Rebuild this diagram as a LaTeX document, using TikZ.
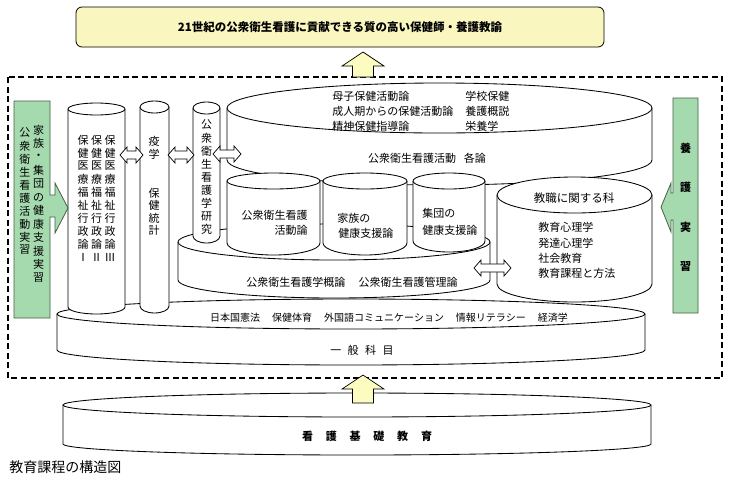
\documentclass[tikz,border=0pt]{standalone}
\usepackage{fontspec}
\setmainfont{Noto Sans CJK JP}
\definecolor{boxyellow}{RGB}{250,246,192}
\definecolor{arrowyellow}{RGB}{252,252,192}
\definecolor{mint}{RGB}{165,218,175}
\definecolor{mintedge}{RGB}{70,95,70}
\newcommand{\cylshape}[6]{% x1,x2,ytop,rytop,ybot,rybot
  \path[fill=white,draw=black] (#1,#3) -- (#1,#5)
    .. controls (#1,{#5+0.5523*#6}) and ({(#1+#2)/2-0.5523*(#2-#1)/2},{#5+#6}) .. ({(#1+#2)/2},{#5+#6})
    .. controls ({(#1+#2)/2+0.5523*(#2-#1)/2},{#5+#6}) and (#2,{#5+0.5523*#6}) .. (#2,#5) -- (#2,#3);
  \draw[fill=white] ({(#1+#2)/2},#3) ellipse [x radius={(#2-#1)/2}, y radius=#4];
}
\newcommand{\dblarr}[3]{% x1,x2,y
  \draw[fill=white,line width=0.7pt] (#1,#3) -- ({#1+7},{#3-8}) -- ({#1+7},{#3-4}) -- ({#2-7},{#3-4}) -- ({#2-7},{#3-8}) -- (#2,#3)
    -- ({#2-7},{#3+8}) -- ({#2-7},{#3+4}) -- ({#1+7},{#3+4}) -- ({#1+7},{#3+8}) -- cycle;
}
\begin{document}
\begin{tikzpicture}[x=1pt,y=-1pt,line width=0.85pt,
  every node/.style={inner sep=0pt,font=\fontsize{11}{13}\selectfont},
  vchar/.style={font=\fontsize{11}{13}\selectfont},
  boldtxt/.style={font=\bfseries\fontsize{11}{13}\selectfont}]
\useasboundingbox (0,0) rectangle (730,480);
\fill[white] (0,0) rectangle (730,480);

% goal box
\node[draw,rounded corners=6pt,fill=boxyellow,minimum width=528,minimum height=40,line width=0.8pt,
  font=\bfseries\fontsize{11.5}{13}\selectfont] (goal) at (340,27) {21世紀の公衆衛生看護に貢献できる質の高い保健師・養護教諭};

% dashed frame
\draw[line width=1.2pt,dash pattern=on 6pt off 3.5pt] (8,77) rectangle (722,378);
\draw[fill=arrowyellow,line width=0.7pt] (363,52) -- (384,66) -- (373.5,66) -- (373.5,77) -- (352.5,77) -- (352.5,66) -- (342,66) -- cycle;

% foundation disk
\cylshape{63}{651}{405}{12}{444}{11}
\node[boldtxt] (kiso) at (367,436) {看\hspace{12.8pt}護\hspace{12.8pt}基\hspace{12.8pt}礎\hspace{12.8pt}教\hspace{12.8pt}育};
\draw[fill=arrowyellow,line width=0.7pt] (363,375) -- (384,389) -- (373.5,389) -- (373.5,403) -- (352.5,403) -- (352.5,389) -- (342,389) -- cycle;

% general subjects disk
\cylshape{57}{645}{314}{15}{350}{15}
\node[font=\fontsize{10}{12}\selectfont] (gen) at (389,318) {日本国憲法\hspace{1.2em}保健体育\hspace{1.2em}外国語コミュニケーション\hspace{1.2em}情報リテラシー\hspace{1.2em}経済学};
\node (ippan) at (362,350) {一\hspace{6.5pt}般\hspace{6.5pt}科\hspace{6.5pt}目};

% middle disk
\cylshape{178}{490}{242}{18}{280}{18}
\node (gairon) at (352,282) {公衆衛生看護学概論\hspace{1.2em}公衆衛生看護管理論};

% big cylinder
\cylshape{227}{652}{108}{25}{160}{25}
\node[anchor=west] (m1) at (332,96) {母子保健活動論};
\node[anchor=west] (m2) at (332,111) {成人期からの保健活動論};
\node[anchor=west] (m3) at (332,126) {精神保健指導論};
\node[anchor=west] (s1) at (465,96) {学校保健};
\node[anchor=west] (s2) at (465,111) {養護概説};
\node[anchor=west] (s3) at (465,126) {栄養学};
\node (kakuron) at (427,158) {公衆衛生看護活動\hspace{0.7em}各論};

% teaching cylinder
\cylshape{497}{652}{195}{18}{284}{18}
\node[font=\fontsize{11.5}{13}\selectfont] (kyo) at (574,198) {教職に関する科};
\node[anchor=west] (k1) at (538,227) {教育心理学};
\node[anchor=west] (k2) at (538,243) {発達心理学};
\node[anchor=west] (k3) at (538,258) {社会教育};
\node[anchor=west] (k4) at (538,273) {教育課程と方法};

% small cylinders
\cylshape{227}{320}{181}{8}{243}{12}
\cylshape{323}{407}{181}{8}{243}{12}
\cylshape{413}{485}{181}{8}{241}{11}
\node[anchor=east] (a1) at (308,215) {公衆衛生看護};
\node[anchor=east] (a2) at (308,230) {活動論};
\node[anchor=west] (b1) at (337,218) {家族の};
\node[anchor=west] (b2) at (338,233) {健康支援論};
\node[anchor=west] (c1) at (422,213) {集団の};
\node[anchor=west] (c2) at (422,230) {健康支援論};

% columns
\cylshape{68}{125}{109}{6}{307}{7}
\cylshape{140}{169}{107}{6}{306}{7}
\cylshape{193}{220}{108}{6}{236}{7}
\foreach \c [count=\i from 0] in {保,健,医,療,福,祉,行,政,論,Ⅰ} \node[vchar] (pa\i) at (83,{140+13*\i}) {\c};
\foreach \c [count=\i from 0] in {保,健,医,療,福,祉,行,政,論,Ⅱ} \node[vchar] (pb\i) at (96.5,{140+13*\i}) {\c};
\foreach \c [count=\i from 0] in {保,健,医,療,福,祉,行,政,論,Ⅲ} \node[vchar] (pc\i) at (110,{140+13*\i}) {\c};
\node[vchar] (e1) at (154,141) {疫};
\node[vchar] (e2) at (154,154) {学};
\foreach \c [count=\i from 0] in {保,健,統,計} \node[vchar] (st\i) at (154,{193+12.5*\i}) {\c};
\foreach \c [count=\i from 0] in {公,衆,衛,生,看,護,学,研,究} \node[vchar] (r\i) at (206.5,{125+13.1*\i}) {\c};

% double arrows
\dblarr{120}{143}{155}
\dblarr{168}{194}{155}
\dblarr{213}{241}{154}
\dblarr{474}{511}{268}

% green practicum boxes
\draw[fill=mint,draw=mintedge,line width=0.8pt] (14,101) -- (50,101) -- (50,195) -- (55,195) -- (55,183) -- (68,208) -- (55,233) -- (55,217) -- (50,217) -- (50,318) -- (14,318) -- cycle;
\foreach \c [count=\i from 0] in {家,族,・,集,団,の,健,康,支,援,実,習} \node[vchar] (g\i) at (38.5,{130+13.45*\i}) {\c};
\foreach \c [count=\i from 0] in {公,衆,衛,生,看,護,活,動,実,習} \node[vchar] (h\i) at (25,{133+13*\i}) {\c};
\draw[fill=mint,draw=mintedge,line width=0.8pt] (673,98) -- (698,98) -- (698,313) -- (673,313) -- (673,220) -- (671,220) -- (671,232) -- (661,207) -- (671,183) -- (671,193) -- (673,193) -- cycle;
\foreach \c/\yy [count=\i] in {養/148,護/187,実/227,習/267} \node[boldtxt] (y\i) at (685.5,\yy) {\c};

% caption
\node[anchor=west,font=\fontsize{14}{16}\selectfont] (cap) at (9,467) {教育課程の構造図};
\end{tikzpicture}
\end{document}
